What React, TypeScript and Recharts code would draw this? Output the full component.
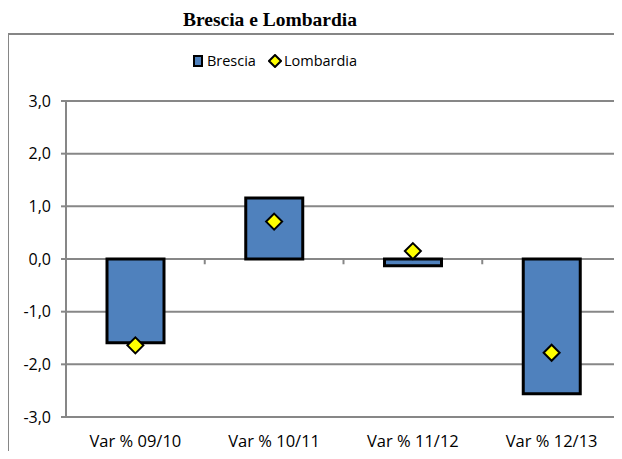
import React from 'react';
import { ComposedChart, Bar, Line, XAxis, YAxis, CartesianGrid, ReferenceLine } from 'recharts';

const categories = ['Var % 09/10', 'Var % 10/11', 'Var % 11/12', 'Var % 12/13'];
const brescia = [-1.59, 1.16, -0.13, -2.56];
const lombardia = [-1.64, 0.71, 0.15, -1.78];
const yTicks = [-3, -2, -1, 0, 1, 2, 3];
const boundaries = [1, 2, 3];

const chartData = categories.map((c, i) => ({ name: c, pos: i + 0.5, brescia: brescia[i], lombardia: lombardia[i] }));

const font = '"Open Sans", "Noto Sans", sans-serif';

// yellow diamond marker for the Lombardia series
const Diamond = (props: any) => {
  const { cx, cy } = props;
  if (cx == null || cy == null) return null;
  const r = 8;
  return (
    <polygon
      key={`d-${cx}`}
      points={`${cx},${cy - r} ${cx + r},${cy} ${cx},${cy + r} ${cx - r},${cy}`}
      fill="#ffff00"
      stroke="#000"
      strokeWidth={2}
    />
  );
};

export default function App() {
  return (
    <div style={{ position: 'relative', width: 622, height: 459, margin: -8, overflow: 'hidden', background: '#fff' }}>
      <div style={{ position: 'absolute', left: 0, width: 540, top: 9, textAlign: 'center', fontFamily: '"Liberation Serif", serif', fontWeight: 'bold', fontSize: 19.5 }}>
        Brescia e Lombardia
      </div>
      <div style={{ position: 'absolute', left: 7, top: 33, width: 640, height: 460, border: '2px solid #868686', boxSizing: 'border-box' }} />
      <div style={{ position: 'absolute', left: 0, width: 550, top: 51, textAlign: 'center', fontFamily: font, fontSize: 14.5, color: '#000' }}>
        <span style={{ display: 'inline-block', width: 6, height: 8, background: '#4f81bd', border: '2px solid #000', marginRight: 4, verticalAlign: -1 }} />
        Brescia
        <svg width={14} height={14} style={{ marginLeft: 12, marginRight: 2, verticalAlign: -2 }}>
          <polygon points="7,1 13,7 7,13 1,7" fill="#ffff00" stroke="#000" strokeWidth={2} />
        </svg>
        Lombardia
      </div>
      <div style={{ position: 'absolute', left: 0, top: 0 }}>
        <ComposedChart width={622} height={459} data={chartData} margin={{ top: 101, right: 1, bottom: 8, left: 0 }}>
          <CartesianGrid vertical={false} stroke="#878787" strokeWidth={2} />
          <XAxis
            dataKey="name"
            xAxisId="cat"
            height={34}
            tick={{ fontSize: 16.5, fill: '#000', fontFamily: font }}
            tickLine={false}
            axisLine={false}
            tickMargin={12}
          />
          <XAxis xAxisId="grid" dataKey="pos" type="number" domain={[0, 4]} allowDataOverflow hide />
          <YAxis
            domain={[-3, 3]}
            ticks={yTicks}
            width={66}
            interval={0}
            tickFormatter={(v: number) => v.toFixed(1).replace('.', ',')}
            tick={{ fontSize: 16, fill: '#000', fontFamily: font }}
            axisLine={{ stroke: '#878787', strokeWidth: 2 }}
            tickLine={{ stroke: '#878787', strokeWidth: 2 }}
            tickSize={5}
            tickMargin={10}
          />
          {boundaries.map((b) => (
            <ReferenceLine
              key={b}
              xAxisId="grid"
              segment={[{ x: b, y: 0 }, { x: b, y: -0.1 }]}
              stroke="#878787"
              strokeWidth={2}
            />
          ))}
          <Bar xAxisId="cat" dataKey="brescia" fill="#4f81bd" stroke="#000" strokeWidth={3} barSize={57} isAnimationActive={false} />
          <Line xAxisId="cat" dataKey="lombardia" stroke="none" dot={<Diamond />} activeDot={false} isAnimationActive={false} />
        </ComposedChart>
      </div>
    </div>
  );
}
